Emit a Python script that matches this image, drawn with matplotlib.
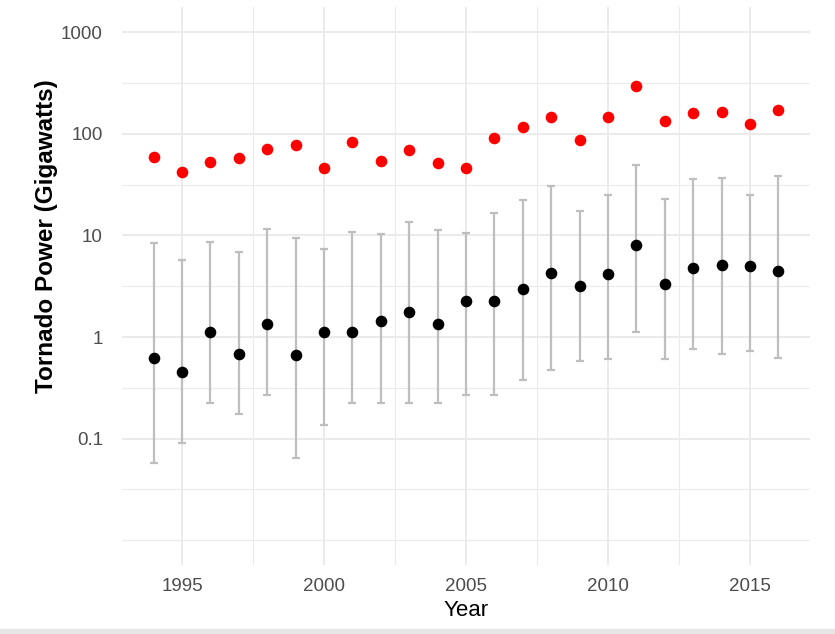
import numpy as np
import matplotlib.pyplot as plt
from matplotlib.ticker import FixedLocator, NullFormatter
from matplotlib.patches import Rectangle

plt.rcParams['font.family'] = ['Liberation Sans', 'DejaVu Sans']

# Data
years = list(range(1994, 2017))
max_power = [58.9, 42.5, 52.6, 57.6, 70.7, 77.4, 45.9, 84.0, 54.6, 69.1, 51.4, 46.2,
             92.0, 118, 147, 86.7, 147, 299, 133, 162, 166, 125, 172]
mid_power = [0.625, 0.449, 1.12, 0.68, 1.34, 0.67, 1.12, 1.12, 1.45, 1.76, 1.34, 2.25,
             2.25, 2.99, 4.3, 3.16, 4.18, 8.0, 3.35, 4.75, 5.12, 5.04, 4.5]
upper = [8.38, 5.74, 8.63, 6.88, 11.5, 9.45, 7.31, 10.8, 10.3, 13.6, 11.2, 10.7,
         16.5, 22.4, 31.0, 17.4, 25.1, 49.5, 22.7, 35.8, 37.1, 24.9, 38.6]
lower = [0.057, 0.0897, 0.225, 0.174, 0.270, 0.065, 0.135, 0.225, 0.225, 0.225, 0.225, 0.270,
         0.270, 0.377, 0.473, 0.584, 0.607, 1.12, 0.607, 0.767, 0.675, 0.728, 0.621]

y_breaks = [0.1, 1, 10, 100, 1000]
y_labels = ['0.1', '1', '10', '100', '1000']
x_breaks = [1995, 2000, 2005, 2010, 2015]

W, H = 835, 634
fig = plt.figure(figsize=(W / 100, H / 100), dpi=100)
ax = fig.add_axes([122.4 / W, (H - 565.4) / H, 687.2 / W, 558.3 / H])

# limits like ggplot: data range plus 5%
ax.set_xlim(1994 - 0.05 * 22, 2016 + 0.05 * 22)
ax.set_yscale('log')
ax.set_ylim(10 ** -2.25, 10 ** 3.25)

# grid (theme_minimal look)
grid_col = '#EBEBEB'
ax.xaxis.set_major_locator(FixedLocator(x_breaks))
ax.xaxis.set_minor_locator(FixedLocator([1997.5, 2002.5, 2007.5, 2012.5]))
ax.yaxis.set_major_locator(FixedLocator(y_breaks))
ax.yaxis.set_minor_locator(FixedLocator([10 ** e for e in [-2, -1.5, -0.5, 0.5, 1.5, 2.5]]))
ax.yaxis.set_minor_formatter(NullFormatter())
ax.set_yticklabels(y_labels)
ax.grid(which='major', color=grid_col, lw=1.4)
ax.grid(which='minor', color=grid_col, lw=0.8)
ax.set_axisbelow(True)
for s in ax.spines.values():
    s.set_visible(False)
ax.tick_params(which='both', length=0)
ax.tick_params(axis='both', labelsize=13.5, colors='#4D4D4D')
ax.tick_params(axis='x', pad=9)
ax.tick_params(axis='y', pad=14)

# error bars + points
yerr = [np.array(mid_power) - np.array(lower), np.array(upper) - np.array(mid_power)]
ax.errorbar(years, mid_power, yerr=yerr, fmt='none', ecolor='#BEBEBE',
            elinewidth=1.6, capsize=3, capthick=1.6, zorder=2)
ax.scatter(years, mid_power, s=70, color='black', zorder=3, linewidths=0)
ax.scatter(years, max_power, s=70, color='#FF0000', zorder=3, linewidths=0)

ax.set_xlabel('Year', fontsize=16, color='black', labelpad=4)
fig.text(47 / W, 1 - 236 / H, 'Tornado Power (Gigawatts)', rotation=90, fontsize=17.5,
         fontweight='bold', ha='center', va='center')

# light strip at the bottom edge of the screenshot
fig.patches.append(Rectangle((0, 0), 1, 5 / H, transform=fig.transFigure,
                             color='#E6E6E6', zorder=0))

fig.savefig('out.png', dpi=100)
